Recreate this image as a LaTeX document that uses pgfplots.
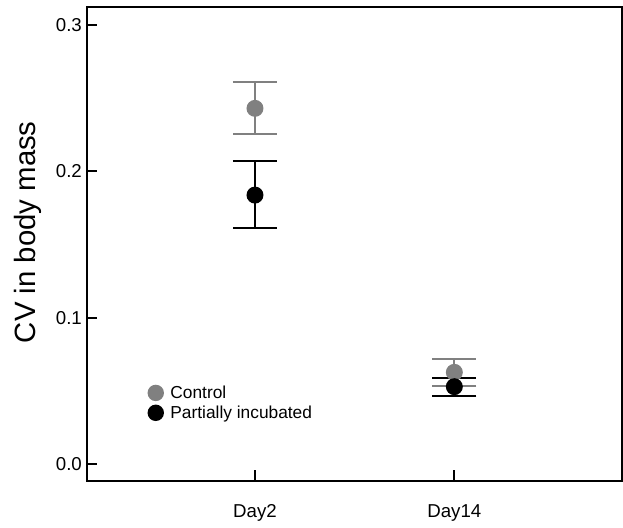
\documentclass[border=0pt]{standalone}
\usepackage{pgfplots}
\usepackage{pgfplotstable}
\usepackage{fontspec}
\setmainfont{Liberation Sans}
\pgfplotsset{compat=1.18}
\usetikzlibrary{calc}

\definecolor{ctrlgray}{RGB}{128,128,128}

% x, mean, upper error, lower error
\pgfplotstableread{
x   y       ep      em
1   0.2430  0.0178  0.0175
2   0.0628  0.0091  0.0092
}\control
\pgfplotstableread{
x   y       ep      em
1   0.1838  0.0232  0.0223
2   0.0530  0.0061  0.0062
}\partial

\begin{document}
\begin{tikzpicture}
\begin{axis}[
    scale only axis,
    width=401.6pt, height=355.5pt,
    xmin=0.155, xmax=2.841,
    ymin=-0.0114, ymax=0.3122,
    axis line style={line width=1.5pt},
    tick style={line width=1.5pt, black},
    tick align=inside,
    major tick length=8pt,
    xtick={1,2}, xticklabels={Day2,Day14},
    ytick={0,0.1,0.2,0.3},
    yticklabel style={/pgf/number format/.cd, fixed, fixed zerofill, precision=1},
    /pgf/number format/assume math mode=true,
    ticklabel style={font=\fontsize{14}{16}\selectfont},
    xticklabel style={yshift=-14pt},
    xtick pos=bottom, ytick pos=left,
    ylabel={CV in body mass},
    every axis y label/.style={at={(rel axis cs:0,0.525)}, xshift=-44pt, rotate=90,
        anchor=center, font=\fontsize{22}{26}\selectfont},
    legend style={draw=none, fill=none, at={(rel axis cs:0.106,0.213)}, anchor=north west,
        font=\fontsize{13}{16}\selectfont, row sep=0pt},
    legend cell align=left,
    legend image code/.code={\fill (0,0) circle (5.4pt); \path[draw=none] (-5.4pt,0) -- (9pt,0);},
    clip=false,
]
\addplot[only marks, mark=*, mark size=5.6pt, color=ctrlgray, line width=1.5pt,
    error bars/.cd, y dir=both, y explicit,
    error mark options={rotate=90, line width=1.5pt, ctrlgray, mark size=16.5pt},
    error bar style={line width=1.5pt, ctrlgray}]
    table[x=x, y=y, y error plus=ep, y error minus=em] {\control};
\addlegendentry{Control}
\addplot[only marks, mark=*, mark size=5.6pt, color=black, line width=1.5pt,
    error bars/.cd, y dir=both, y explicit,
    error mark options={rotate=90, line width=1.5pt, black, mark size=16.5pt},
    error bar style={line width=1.5pt, black}]
    table[x=x, y=y, y error plus=ep, y error minus=em] {\partial};
\addlegendentry{Partially incubated}
\end{axis}
\path ($(current axis.south west)+(-64.9pt,-34.5pt)$) rectangle ($(current axis.north east)+(0.75pt,5.25pt)$);
\end{tikzpicture}
\end{document}
